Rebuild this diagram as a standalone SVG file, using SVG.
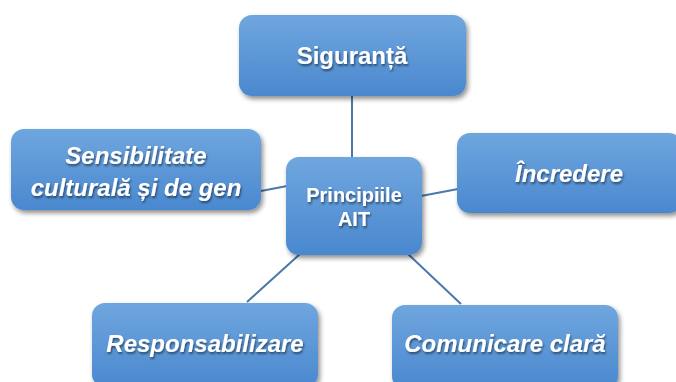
<svg xmlns="http://www.w3.org/2000/svg" width="676" height="382" viewBox="0 0 676 382">
  <defs>
    <linearGradient id="g" x1="0" y1="0" x2="0" y2="1">
      <stop offset="0" stop-color="#6fa6de"/>
      <stop offset="1" stop-color="#4a88cf"/>
    </linearGradient>
    <filter id="sh" x="-10%" y="-10%" width="125%" height="130%">
      <feGaussianBlur in="SourceAlpha" stdDeviation="2.5"/>
      <feOffset dx="2" dy="3" result="b"/>
      <feComponentTransfer><feFuncA type="linear" slope="0.45"/></feComponentTransfer>
      <feMerge><feMergeNode/><feMergeNode in="SourceGraphic"/></feMerge>
    </filter>
    <filter id="ts" x="-5%" y="-20%" width="110%" height="150%">
      <feGaussianBlur in="SourceAlpha" stdDeviation="1"/>
      <feOffset dx="1" dy="1.5"/>
      <feComponentTransfer><feFuncA type="linear" slope="0.5"/></feComponentTransfer>
      <feMerge><feMergeNode/><feMergeNode in="SourceGraphic"/></feMerge>
    </filter>
  </defs>
  <style>
    .box { fill: url(#g); filter: url(#sh); }
    .t { font-family: "Liberation Sans", Arial, sans-serif; font-weight: bold; fill: #ffffff; text-anchor: middle; filter: url(#ts); }
    .i { font-style: italic; }
    .c { stroke: #4a78a8; stroke-width: 2; fill: none; }
  </style>
  <g id="connectors">
    <line class="c" x1="352" y1="96" x2="352" y2="158"/>
    <line class="c" x1="261" y1="191" x2="287" y2="186"/>
    <line class="c" x1="421" y1="196" x2="458" y2="189"/>
    <line class="c" x1="300" y1="254" x2="247" y2="302"/>
    <line class="c" x1="408" y1="254" x2="461" y2="304"/>
  </g>
  <g id="siguranta">
    <rect class="box" x="239" y="15" width="227" height="81" rx="13"/>
    <text class="t" x="352" y="64" font-size="24">Siguranță</text>
  </g>
  <g id="center">
    <rect class="box" x="286" y="157" width="136" height="98" rx="13"/>
    <text class="t" x="354" y="202" font-size="20">Principiile</text>
    <text class="t" x="354" y="226" font-size="20">AIT</text>
  </g>
  <g id="sensibilitate">
    <rect class="box" x="11" y="129" width="250" height="81" rx="13"/>
    <text class="t i" x="136" y="164" font-size="24">Sensibilitate</text>
    <text class="t i" x="136" y="196" font-size="24">culturală și de gen</text>
  </g>
  <g id="incredere">
    <rect class="box" x="457" y="133" width="225" height="80" rx="13"/>
    <text class="t i" x="569" y="182" font-size="24">Încredere</text>
  </g>
  <g id="responsabilizare">
    <rect class="box" x="92" y="303" width="226" height="84" rx="13"/>
    <text class="t i" x="205" y="352" font-size="24">Responsabilizare</text>
  </g>
  <g id="comunicare">
    <rect class="box" x="392" y="305" width="226" height="84" rx="13"/>
    <text class="t i" x="505" y="352" font-size="24">Comunicare clară</text>
  </g>
</svg>
